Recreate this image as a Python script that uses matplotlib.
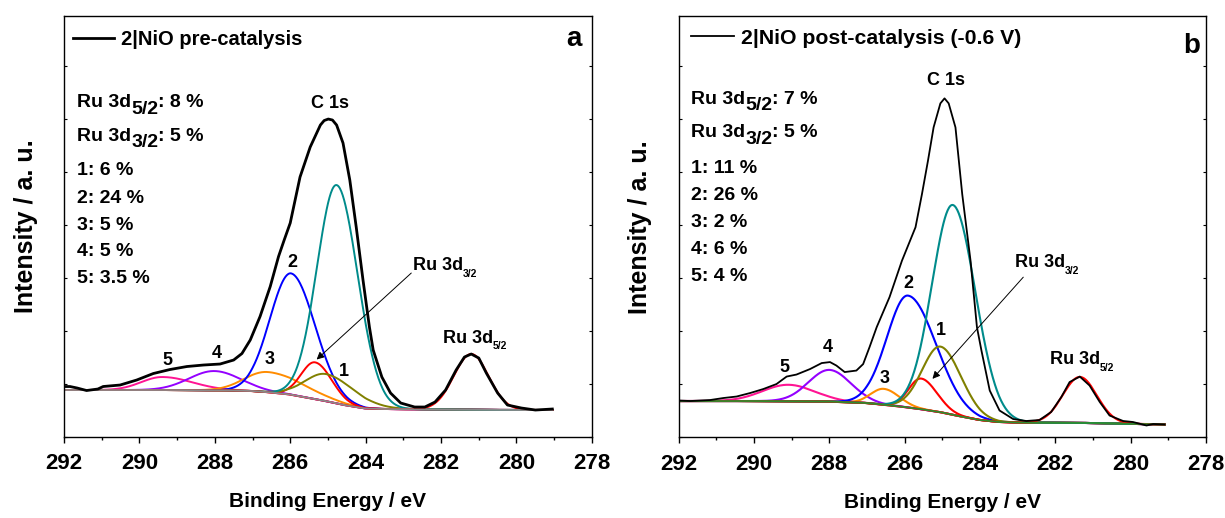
import numpy as np
import matplotlib
matplotlib.use("Agg")
import matplotlib.pyplot as plt
from matplotlib.ticker import MultipleLocator
from matplotlib.transforms import offset_copy

plt.rcParams["font.family"] = ["Liberation Sans", "DejaVu Sans"]
plt.rcParams["font.weight"] = "bold"

# ---------------- (a) 2|NiO pre-catalysis ----------------
be_pre = [292.0, 291.84, 291.65, 291.4, 291.1, 290.96, 290.51, 290.07, 289.63, 289.19,
          288.74, 288.3, 287.86, 287.5, 287.28, 287.06, 286.8, 286.53, 286.31, 286.16,
          286.0, 285.74, 285.47, 285.2, 285.1, 284.99, 284.88, 284.77, 284.6, 284.42,
          284.25, 284.07, 283.9, 283.8, 283.57, 283.34, 283.07, 282.7, 282.43, 282.16,
          281.88, 281.6, 281.38, 281.2, 281.0, 280.8, 280.5, 280.24, 279.87, 279.5, 279.05]
int_pre = [0.50, 0.50, 0.485, 0.46, 0.475, 0.50, 0.515, 0.565, 0.63, 0.67,
           0.70, 0.715, 0.725, 0.765, 0.83, 0.965, 1.20, 1.50, 1.80, 1.965,
           2.135, 2.595, 2.895, 3.115, 3.16, 3.175, 3.165, 3.115, 2.935, 2.565,
           2.095, 1.565, 1.095, 0.865, 0.595, 0.435, 0.335, 0.295, 0.295, 0.345,
           0.465, 0.665, 0.795, 0.825, 0.785, 0.635, 0.435, 0.315, 0.285, 0.265, 0.275]
bg_be_pre = [292.0, 289.0, 287.5, 287.0, 286.5, 286.0, 285.5, 285.0, 284.5, 284.0,
             283.5, 282.0, 280.0, 279.05]
bg_pre = [0.465, 0.465, 0.46, 0.455, 0.44, 0.42, 0.385, 0.35, 0.31, 0.28,
          0.275, 0.27, 0.265, 0.265]

# fitted components: 5, 4, 3, 2, Ru 3d3/2, 1, C 1s, Ru 3d5/2
comp_colors = ["#ff1493", "#9400ff", "#ff8c00", "#0000ff", "#ff0000", "#808000", "#008b8b", "#ff0000"]
pre_center = [289.40, 288.02, 286.60, 285.98, 285.34, 285.05, 284.77, 281.20]
pre_height = [0.130, 0.193, 0.202, 1.213, 0.368, 0.271, 2.183, 0.557]
pre_w_hi = [0.55, 0.66, 0.60, 0.56, 0.37, 0.55, 0.52, 0.46]
pre_w_lo = [0.80, 0.70, 0.95, 0.64, 0.44, 0.75, 0.56, 0.46]

pre_shares = ["8 %", "5 %", "1: 6 %", "2: 24 %", "3: 5 %", "4: 5 %", "5: 3.5 %"]

# ---------------- (b) 2|NiO post-catalysis (-0.6 V) ----------------
be_post = [292.0, 291.69, 291.16, 290.81, 290.46, 290.1, 289.75, 289.4, 289.13, 288.87,
           288.51, 288.2, 287.98, 287.81, 287.59, 287.28, 287.1, 286.93, 286.74, 286.4,
           286.07, 285.71, 285.54, 285.38, 285.23, 285.05, 284.94, 284.83, 284.65, 284.47,
           284.25, 284.08, 283.96, 283.74, 283.48, 283.12, 282.77, 282.42, 282.11, 281.84,
           281.62, 281.35, 281.09, 280.82, 280.56, 280.2, 279.94, 279.58, 279.4, 279.1]
int_post = [0.365, 0.36, 0.37, 0.39, 0.405, 0.44, 0.48, 0.53, 0.605, 0.625,
            0.68, 0.74, 0.75, 0.715, 0.65, 0.665, 0.73, 0.90, 1.10, 1.40,
            1.765, 2.10, 2.43, 2.765, 3.10, 3.34, 3.39, 3.34, 3.10, 2.43,
            1.765, 1.10, 0.865, 0.465, 0.265, 0.18, 0.16, 0.17, 0.25, 0.40,
            0.55, 0.605, 0.515, 0.35, 0.215, 0.16, 0.15, 0.115, 0.13, 0.125]
bg_be_post = [292.0, 290.0, 288.0, 287.0, 286.5, 286.0, 285.5, 285.0, 284.5, 284.0,
              283.5, 283.0, 281.0, 279.1]
bg_post = [0.36, 0.36, 0.355, 0.34, 0.32, 0.30, 0.275, 0.245, 0.205, 0.17,
           0.15, 0.145, 0.14, 0.125]

post_center = [289.09, 288.00, 286.55, 285.91, 285.56, 285.05, 284.72, 281.35]
post_height = [0.165, 0.317, 0.160, 1.120, 0.307, 0.657, 2.100, 0.460]
post_w_hi = [0.68, 0.55, 0.34, 0.56, 0.33, 0.48, 0.55, 0.45]
post_w_lo = [0.70, 0.57, 0.41, 0.74, 0.42, 0.55, 0.60, 0.45]

post_shares = ["7 %", "5 %", "1: 11 %", "2: 26 %", "3: 2 %", "4: 6 %", "5: 4 %"]

peak_numbers = ["1", "2", "3", "4", "5"]
x_ticks = [292, 290, 288, 286, 284, 282, 280, 278]

fig = plt.figure(figsize=(12.25, 5.18), dpi=100)
renderer = fig.canvas.get_renderer()


def text_runs(ax, x, y, runs, transform):
    """Write text pieces one after another (for bold subscripts)."""
    dx = 0.0
    for s, size, dy in runs:
        tr = offset_copy(transform, fig=fig, x=dx, y=dy, units="points")
        t = ax.text(x, y, s, transform=tr, fontsize=size, fontweight="bold",
                    ha="left", va="baseline")
        dx += t.get_window_extent(renderer=renderer).width * 72.0 / fig.dpi


def component(e, bg_e, bg_i, c, h, whi, wlo):
    base = np.interp(e, bg_e[::-1], bg_i[::-1])
    w = np.where(e >= c, whi, wlo)
    return base + h * np.exp(-0.5 * ((e - c) / w) ** 2)


def panel(rect, be, inten, bg_e, bg_i, centers, heights, whi, wlo, legend_text,
          legend_size, env_lw, comp_lw, bg_color, letter, letter_pos, legend_anchor,
          shares, share_x, share_y, c1s_pos, num_pos, ru32_pos, arrow, ru52_pos):
    ax = fig.add_axes(rect)
    e = np.linspace(be[-1], be[0], 700)
    bg_e = np.asarray(bg_e)
    bg_i = np.asarray(bg_i)
    for col, c, h, a, b in zip(comp_colors, centers, heights, whi, wlo):
        ax.plot(e, component(e, bg_e, bg_i, c, h, a, b), color=col, lw=comp_lw, zorder=2)
    ax.plot(bg_e, bg_i, color=bg_color, lw=1.3, zorder=2.5)
    env, = ax.plot(be, inten, color="black", lw=env_lw, zorder=3, label=legend_text)

    ax.set_xlim(292, 278)
    ax.set_ylim(0, 4.21)
    ax.set_xticks(x_ticks)
    ax.xaxis.set_minor_locator(MultipleLocator(1))
    ax.yaxis.set_major_locator(MultipleLocator(0.53))
    ax.tick_params(axis="x", which="major", direction="out", length=4, width=1,
                   labelsize=16, pad=8)
    ax.tick_params(axis="x", which="minor", direction="out", length=2.5, width=1)
    ax.tick_params(axis="y", which="both", direction="in", length=2.5, width=0.8,
                   left=True, right=True, labelleft=False)
    for lab in ax.get_xticklabels():
        lab.set_fontweight("bold")
    for sp in ax.spines.values():
        sp.set_linewidth(1.0)
    ax.set_xlabel("Binding Energy / eV", fontsize=15, fontweight="bold", labelpad=13)
    ax.set_ylabel("Intensity / a. u.", fontsize=18, fontweight="bold", labelpad=19)

    ax.legend(handles=[env], loc="center left", bbox_to_anchor=legend_anchor,
              frameon=False, borderpad=0, borderaxespad=0, handlelength=2.0,
              handletextpad=0.35, prop={"weight": "bold", "size": legend_size})
    ax.text(letter_pos[0], letter_pos[1], letter, transform=ax.transAxes,
            fontsize=20, fontweight="bold", ha="center", va="baseline")

    # peak shares
    text_runs(ax, share_x, share_y[0], [("Ru 3d", 14, 0), ("5/2", 14, -4.5), (": " + shares[0], 14, 0)],
              ax.transAxes)
    text_runs(ax, share_x, share_y[1], [("Ru 3d", 14, 0), ("3/2", 14, -4.5), (": " + shares[1], 14, 0)],
              ax.transAxes)
    for s, yy in zip(shares[2:], share_y[2:]):
        ax.text(share_x, yy, s, transform=ax.transAxes, fontsize=14,
                fontweight="bold", ha="left", va="baseline")

    ax.text(c1s_pos[0], c1s_pos[1], "C 1s", fontsize=13, fontweight="bold",
            ha="center", va="center")
    for n, (px, py) in zip(peak_numbers, num_pos):
        ax.text(px, py, n, fontsize=13, fontweight="bold", ha="center", va="center")

    text_runs(ax, ru32_pos[0], ru32_pos[1], [("Ru 3d", 13, 0), ("3/2", 7.5, -5)], ax.transData)
    text_runs(ax, ru52_pos[0], ru52_pos[1], [("Ru 3d", 13, 0), ("5/2", 7.5, -5)], ax.transData)
    ax.annotate("", xy=arrow[1], xytext=arrow[0],
                arrowprops=dict(arrowstyle="-|>", color="black", lw=0.7,
                                mutation_scale=11, shrinkA=0, shrinkB=0))
    return ax


panel([0.0522, 0.1573, 0.4310, 0.8127], be_pre, int_pre, bg_be_pre, bg_pre,
      pre_center, pre_height, pre_w_hi, pre_w_lo, "2|NiO pre-catalysis", 14.5,
      env_lw=2.0, comp_lw=1.4, bg_color="#8a8a8a", letter="a", letter_pos=(0.966, 0.928),
      legend_anchor=(0.018, 0.942), shares=pre_shares, share_x=0.0248,
      share_y=[0.782, 0.7026, 0.6211, 0.5546, 0.4905, 0.4280, 0.3646],
      c1s_pos=(284.94, 3.33),
      num_pos=[(284.57, 0.65), (285.94, 1.74), (286.55, 0.77), (287.95, 0.83), (289.25, 0.76)],
      ru32_pos=(282.75, 1.665), arrow=((282.79, 1.635), (285.30, 0.77)),
      ru52_pos=(281.95, 0.94))

panel([0.5539, 0.1564, 0.4306, 0.8118], be_post, int_post, bg_be_post, bg_post,
      post_center, post_height, post_w_hi, post_w_lo, "2|NiO post-catalysis (-0.6 V)", 15.3,
      env_lw=1.3, comp_lw=1.5, bg_color="#2e8b2e", letter="b", letter_pos=(0.9735, 0.913),
      legend_anchor=(0.0237, 0.948), shares=post_shares, share_x=0.0243,
      share_y=[0.7919, 0.7127, 0.6278, 0.5643, 0.4994, 0.4345, 0.3710],
      c1s_pos=(284.89, 3.565),
      num_pos=[(285.05, 1.065), (285.90, 1.535), (286.52, 0.59), (288.03, 0.90), (289.19, 0.70)],
      ru32_pos=(283.07, 1.70), arrow=((282.85, 1.60), (285.26, 0.582)),
      ru52_pos=(282.15, 0.73))

fig.savefig("out.png", dpi=100)
